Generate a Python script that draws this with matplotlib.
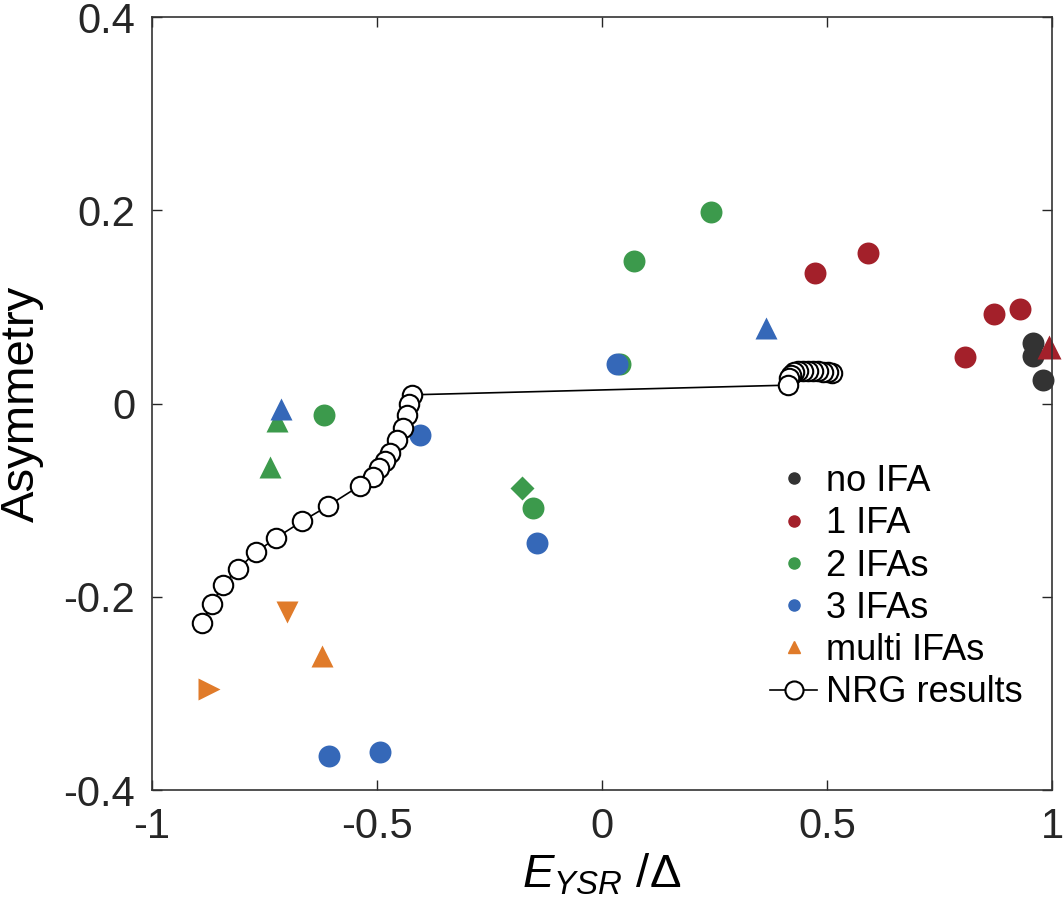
import matplotlib
matplotlib.use("Agg")
import matplotlib.pyplot as plt
from matplotlib.lines import Line2D

plt.rcParams['font.family'] = ['Liberation Sans', 'DejaVu Sans']
plt.rcParams['mathtext.fontset'] = 'custom'
plt.rcParams['mathtext.rm'] = 'Liberation Sans'
plt.rcParams['mathtext.it'] = 'Liberation Sans:italic'
plt.rcParams['axes.unicode_minus'] = False

# colours of the groups
c_no = '#333333'
c_one = '#A3202A'
c_two = '#3C9A4C'
c_three = '#3568B8'
c_multi = '#E07B2A'

# no IFA
no_x = [0.958, 0.958, 0.98]
no_y = [0.063, 0.049, 0.024]

# 1 IFA
one_x = [0.473, 0.591, 0.807, 0.871, 0.929]
one_y = [0.135, 0.156, 0.048, 0.093, 0.098]
one_tri_x = [0.993]
one_tri_y = [0.058]

# 2 IFAs
two_x = [0.242, 0.071, 0.040, -0.618, -0.153]
two_y = [0.198, 0.147, 0.041, -0.012, -0.108]
two_dia_x = [-0.178]
two_dia_y = [-0.087]
two_tri_x = [-0.722, -0.738]
two_tri_y = [-0.018, -0.066]

# 3 IFAs
three_x = [0.033, -0.404, -0.144, -0.607, -0.493]
three_y = [0.041, -0.033, -0.144, -0.365, -0.361]
three_tri_x = [0.364, -0.713]
three_tri_y = [0.078, -0.006]

# multi IFAs
multi_up_x = [-0.622]
multi_up_y = [-0.261]
multi_down_x = [-0.700]
multi_down_y = [-0.216]
multi_right_x = [-0.873]
multi_right_y = [-0.295]

# NRG results
nrg_x = [0.511, 0.502, 0.491, 0.480, 0.469, 0.458, 0.447, 0.436, 0.427, 0.420, 0.416, 0.413,
         -0.422, -0.429, -0.433, -0.442, -0.456, -0.471, -0.482, -0.496, -0.509, -0.538,
         -0.609, -0.667, -0.724, -0.769, -0.809, -0.842, -0.867, -0.889]
nrg_y = [0.032, 0.033, 0.033, 0.034, 0.034, 0.034, 0.034, 0.034, 0.033, 0.030, 0.026, 0.019,
         0.009, 0.000, -0.012, -0.025, -0.038, -0.051, -0.059, -0.067, -0.076, -0.085,
         -0.106, -0.122, -0.139, -0.154, -0.171, -0.188, -0.207, -0.227]

fig = plt.figure(figsize=(10.63, 9.15), dpi=100)
ax = fig.add_axes([0.143, 0.1366, 0.8467, 0.8448])

ms = 15.8
ax.plot(no_x, no_y, 'o', color=c_no, ms=ms, mec='none', clip_on=False)
ax.plot(one_x, one_y, 'o', color=c_one, ms=ms, mec='none', clip_on=False)
ax.plot(one_tri_x, one_tri_y, '^', color=c_one, ms=ms + 1, mec='none', clip_on=False)
ax.plot(two_dia_x, two_dia_y, 'D', color=c_two, ms=ms * 0.75, mec='none')
ax.plot(two_x, two_y, 'o', color=c_two, ms=ms, mec='none')
ax.plot(two_tri_x, two_tri_y, '^', color=c_two, ms=ms, mec='none')
ax.plot(three_x, three_y, 'o', color=c_three, ms=ms, mec='none')
ax.plot(three_tri_x, three_tri_y, '^', color=c_three, ms=ms, mec='none')
ax.plot(multi_up_x, multi_up_y, '^', color=c_multi, ms=ms, mec='none')
ax.plot(multi_down_x, multi_down_y, 'v', color=c_multi, ms=ms, mec='none')
ax.plot(multi_right_x, multi_right_y, '>', color=c_multi, ms=ms, mec='none')
ax.plot(nrg_x, nrg_y, '-o', color='black', lw=1.2, ms=14, mfc='white', mec='black', mew=1.5)

ax.set_xlim(-1, 1)
ax.set_ylim(-0.4, 0.4)
ax.set_xticks([-1, -0.5, 0, 0.5, 1])
ax.set_xticklabels(['-1', '-0.5', '0', '0.5', '1'])
ax.set_yticks([-0.4, -0.2, 0, 0.2, 0.4])
ax.set_yticklabels(['-0.4', '-0.2', '0', '0.2', '0.4'])
ax.tick_params(direction='in', length=7, width=1, top=True, right=True,
               labelsize=30, colors='#262626', pad=12)
for s in ax.spines.values():
    s.set_color('#333333')
    s.set_linewidth(1.2)

ax.set_xlabel(r'$E_{YSR}$ /$\Delta$', fontsize=34, labelpad=4)
ax.set_ylabel('Asymmetry', fontsize=34, labelpad=14)

handles = [
    Line2D([], [], ls='none', marker='o', color=c_no, ms=8),
    Line2D([], [], ls='none', marker='o', color=c_one, ms=8),
    Line2D([], [], ls='none', marker='o', color=c_two, ms=8),
    Line2D([], [], ls='none', marker='o', color=c_three, ms=8),
    Line2D([], [], ls='none', marker='^', color=c_multi, ms=8),
    Line2D([], [], ls='-', marker='o', color='black', lw=1.2, ms=13, mfc='white', mew=1.5),
]
labels = ['no IFA', '1 IFA', '2 IFAs', '3 IFAs', 'multi IFAs', 'NRG results']
ax.legend(handles, labels, loc='upper left', bbox_to_anchor=(0.667, 0.445), frameon=False,
          fontsize=26, handlelength=1.3, handletextpad=0.25, labelspacing=0.2, borderpad=0)

fig.savefig('out.png', dpi=100)
